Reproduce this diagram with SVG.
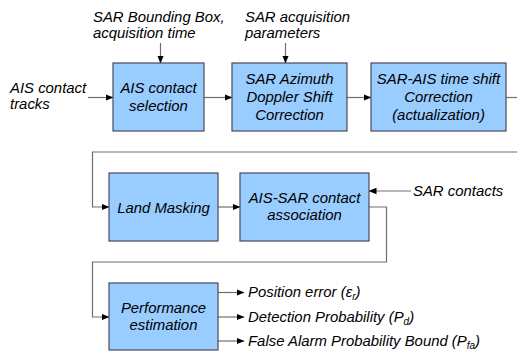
<svg xmlns="http://www.w3.org/2000/svg" width="517" height="354" viewBox="0 0 517 354">
  <style>
    text { font-family: "Liberation Sans", Arial, sans-serif; font-style: italic; font-size: 14.9px; fill: #000; }
    .box { fill: #99ccff; stroke: #4a4a5a; stroke-width: 1.2; }
    .mid { text-anchor: middle; }
    .wire { fill: none; stroke: #6e6e6e; stroke-width: 1.2; }
    .sub { font-size: 10px; }
  </style>
  <defs>
    <marker id="arr" viewBox="0 0 8 8" refX="7.5" refY="4" markerWidth="8" markerHeight="8" markerUnits="userSpaceOnUse" orient="auto">
      <path d="M0,0.8 L8,4 L0,7.2 Z" fill="#000"/>
    </marker>
  </defs>

  <!-- connectors -->
  <g id="connectors">
    <line class="wire" x1="88" y1="97.5" x2="113" y2="97.5" marker-end="url(#arr)"/>
    <line class="wire" x1="160.5" y1="43" x2="160.5" y2="63" marker-end="url(#arr)"/>
    <line class="wire" x1="285.5" y1="43" x2="285.5" y2="63" marker-end="url(#arr)"/>
    <line class="wire" x1="204" y1="97.5" x2="232" y2="97.5" marker-end="url(#arr)"/>
    <line class="wire" x1="347" y1="97.5" x2="371" y2="97.5" marker-end="url(#arr)"/>
    <line class="wire" x1="506" y1="97.5" x2="517" y2="97.5"/>
    <polyline class="wire" points="517,152 92.5,152 92.5,207 109,207" marker-end="url(#arr)"/>
    <line class="wire" x1="218" y1="207" x2="240" y2="207" marker-end="url(#arr)"/>
    <line class="wire" x1="411" y1="191" x2="369" y2="191" marker-end="url(#arr)"/>
    <polyline class="wire" points="369,207 386.5,207 386.5,262 92.5,262 92.5,317 109,317" marker-end="url(#arr)"/>
    <line class="wire" x1="218" y1="292.5" x2="244" y2="292.5" marker-end="url(#arr)"/>
    <line class="wire" x1="218" y1="317" x2="244" y2="317" marker-end="url(#arr)"/>
    <line class="wire" x1="218" y1="341" x2="244" y2="341" marker-end="url(#arr)"/>
  </g>

  <!-- free labels -->
  <text x="10" y="93">AIS contact</text>
  <text x="10" y="109">tracks</text>
  <text x="93" y="22">SAR Bounding Box,</text>
  <text x="93" y="38">acquisition time</text>
  <text x="245" y="22">SAR acquisition</text>
  <text x="245" y="38">parameters</text>
  <text x="413" y="196">SAR contacts</text>
  <text x="248" y="297">Position error (<tspan>ε</tspan><tspan class="sub" dy="3">r</tspan><tspan dy="-3">)</tspan></text>
  <text x="248" y="322">Detection Probability (P<tspan class="sub" dy="3">d</tspan><tspan dy="-3">)</tspan></text>
  <text x="248" y="346">False Alarm Probability Bound (P<tspan class="sub" dy="3">fa</tspan><tspan dy="-3">)</tspan></text>

  <!-- nodes -->
  <g id="ais-selection">
    <rect class="box" x="113" y="63" width="91" height="68"/>
    <text class="mid" x="158.5" y="93">AIS contact</text>
    <text class="mid" x="158.5" y="111">selection</text>
  </g>
  <g id="doppler-correction">
    <rect class="box" x="232" y="63" width="115" height="68"/>
    <text class="mid" x="289.5" y="84">SAR Azimuth</text>
    <text class="mid" x="289.5" y="102">Doppler Shift</text>
    <text class="mid" x="289.5" y="120">Correction</text>
  </g>
  <g id="time-shift">
    <rect class="box" x="371" y="63" width="135" height="68"/>
    <text class="mid" x="438.5" y="84">SAR-AIS time shift</text>
    <text class="mid" x="438.5" y="102">Correction</text>
    <text class="mid" x="438.5" y="120">(actualization)</text>
  </g>
  <g id="land-masking">
    <rect class="box" x="109" y="173" width="109" height="68"/>
    <text class="mid" x="163.5" y="213">Land Masking</text>
  </g>
  <g id="association">
    <rect class="box" x="240" y="173" width="129" height="68"/>
    <text class="mid" x="304.5" y="203">AIS-SAR contact</text>
    <text class="mid" x="304.5" y="220">association</text>
  </g>
  <g id="performance">
    <rect class="box" x="109" y="283" width="109" height="67"/>
    <text class="mid" x="163.5" y="313">Performance</text>
    <text class="mid" x="163.5" y="330">estimation</text>
  </g>
</svg>
